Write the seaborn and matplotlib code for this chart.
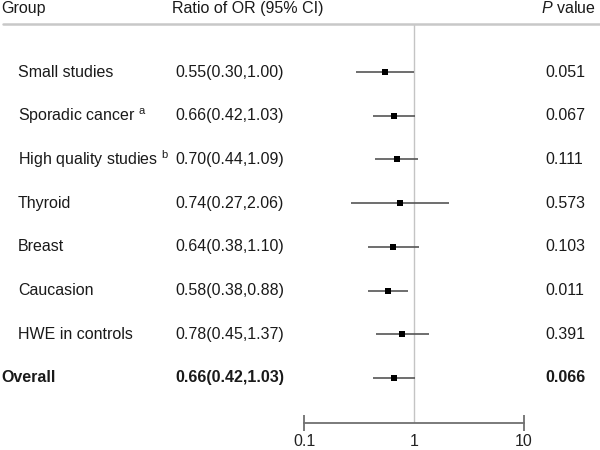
import seaborn as sns
import matplotlib.pyplot as plt
from matplotlib.lines import Line2D
from matplotlib.transforms import blended_transform_factory
import numpy as np
import pandas as pd

groups = ["Small studies", "Sporadic cancer $^{\\mathrm{a}}$",
          "High quality studies $^{\\mathrm{b}}$", "Thyroid", "Breast",
          "Caucasion", "HWE in controls", "Overall"]
ratio = [0.55, 0.66, 0.70, 0.74, 0.64, 0.58, 0.78, 0.66]
ci_low = [0.30, 0.42, 0.44, 0.27, 0.38, 0.38, 0.45, 0.42]
ci_high = [1.00, 1.03, 1.09, 2.06, 1.10, 0.88, 1.37, 1.03]
p_values = ["0.051", "0.067", "0.111", "0.573", "0.103", "0.011", "0.391", "0.066"]
x_ticks = [0.1, 10]

sns.set_theme(style="white")
plt.rcParams['font.family'] = ['Liberation Sans', 'DejaVu Sans']
plt.rcParams['mathtext.fontset'] = 'custom'
plt.rcParams['mathtext.rm'] = 'Liberation Sans'
plt.rcParams['mathtext.it'] = 'Liberation Sans:italic'
plt.rcParams['mathtext.bf'] = 'Liberation Sans:bold'

df = pd.DataFrame({"group": groups, "ratio": ratio,
                   "low": ci_low, "high": ci_high, "p": p_values})
df["row"] = np.arange(len(df))

fig = plt.figure(figsize=(6, 4.5), dpi=100)
W, H = 600, 450
# forest axes: 0.1 at x=304px, 10 at x=524px; top at y=23.5px, bottom at y=423px
ax = fig.add_axes([304 / W, 1 - 423 / H, 220 / W, (423 - 23.5) / H])
ax.set_xscale("log")

ax.axvline(1, color="#c4c4c4", lw=1, zorder=0)
ax.hlines(df["row"], df["low"], df["high"], color="#555555", lw=1.2, zorder=2)
sns.scatterplot(data=df, x="ratio", y="row", marker="s", s=13, color="black",
                edgecolor="black", linewidth=0, zorder=3, ax=ax, legend=False)

ax.set_xlim(0.1, 10)
ax.set_ylim(8.03, -1.11)
ax.set_xlabel("")
ax.set_ylabel("")
ax.set_yticks([])
for side in ["top", "left", "right"]:
    ax.spines[side].set_visible(False)
ax.spines["bottom"].set_color("#707070")
ax.spines["bottom"].set_linewidth(1.3)
ax.set_xticks(x_ticks, labels=["0.1", "10"])
ax.set_xticks([1], labels=["1"], minor=True)
ax.tick_params(axis="x", which="major", direction="inout", length=12,
               width=1.3, color="#707070", labelsize=11.5, pad=2,
               labelcolor="#222222", bottom=True)
ax.tick_params(axis="x", which="minor", length=0, labelsize=11.5, pad=8,
               labelcolor="#222222", bottom=True)
ax.set_facecolor("none")

# text columns aligned to rows
tr = blended_transform_factory(fig.transFigure, ax.transData)
fs = 11.5
tc = "#1a1a1a"
for i, r in df.iterrows():
    last = i == len(df) - 1
    weight = "bold" if last else "normal"
    x_lab = 1 / W if last else 18 / W
    ax.text(x_lab, r["row"], r["group"], transform=tr, ha="left", va="center",
            fontsize=fs, fontweight=weight, color=tc)
    label = f"{r['ratio']:.2f}({r['low']:.2f},{r['high']:.2f})"
    ax.text(175 / W, r["row"], label, transform=tr, ha="left", va="center",
            fontsize=fs, fontweight=weight, color=tc)
    ax.text(545 / W, r["row"], r["p"], transform=tr, ha="left", va="center",
            fontsize=fs, fontweight=weight, color=tc)

# header
hy = 1 - 8 / H
fig.text(1 / W, hy, "Group", ha="left", va="center", fontsize=fs, color=tc)
fig.text(172 / W, hy, "Ratio of OR (95% CI)", ha="left", va="center",
         fontsize=fs, color=tc)
fig.text(596 / W, hy, "$\\mathit{P}$ value", ha="right", va="center",
         fontsize=fs, color=tc)
fig.add_artist(Line2D([3 / W, 1], [1 - 23.5 / H, 1 - 23.5 / H],
                      color="#c8c8c8", lw=1.8))

fig.savefig("out.png", dpi=100, facecolor="white")
